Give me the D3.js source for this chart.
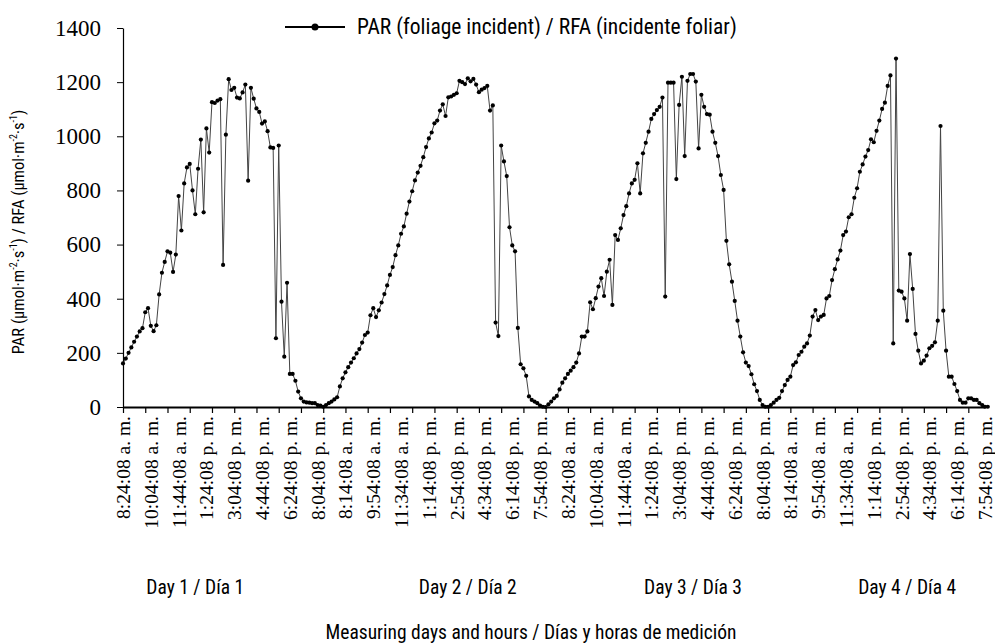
<!DOCTYPE html>
<html>
<head>
<meta charset="utf-8">
<script src="https://cdn.jsdelivr.net/npm/d3@7"></script>
<style>
  body { margin: 0; background: #fff; }
  .sans { font-family: "Liberation Sans Narrow", "Roboto Condensed", "Liberation Sans", Arial, sans-serif; font-weight: 400; }
  .serif { font-family: "Liberation Serif", "Times New Roman", serif; }
</style>
</head>
<body>
<div id="chart"></div>
<script>
// PAR readings, one every 10 minutes, four measuring days in a row
var par = [
  // day 1
  161,179,200,220,241,260,279,291,350,365,300,280,302,416,496,536,575,570,499,563,
  779,652,826,885,898,800,712,880,988,719,1029,940,1126,1123,1132,1137,525,1006,1211,1171,
  1179,1143,1140,1162,1191,836,1179,1139,1103,1090,1047,1055,1019,959,957,254,966,389,186,459,122,
  // night 1 / day 2
  122,97,57,32,20,17,16,14,14,7,5,1,7,14,20,28,36,76,106,128,
  147,164,180,198,214,238,266,275,339,365,332,357,386,417,449,488,517,561,597,640,
  667,714,759,797,837,866,891,923,960,992,1014,1048,1058,1095,1118,1075,1144,1147,1153,1159,
  1205,1200,1193,1214,1203,1212,1191,1163,1172,1178,1186,1095,1114,312,262,966,907,853,664,597,
  575,292,158,143,115,39,26,20,14,5,1,0,10,20,32,41,65,90,106,122,
  134,147,164,198,260,260,279,387,361,402,445,476,410,500,544,377,635,617,
  // day 3
  660,709,742,789,826,839,900,789,937,976,1017,1064,1082,1097,1109,1143,408,1198,1198,1198,
  842,1116,1220,927,1205,1230,1230,1202,955,1153,1109,1082,1080,1017,976,927,857,802,614,527,
  463,392,319,260,202,164,151,121,84,59,26,7,1,1,7,16,26,34,59,81,100,112,155,
  // day 4
  165,192,204,223,235,264,334,358,321,334,340,401,410,469,509,545,578,635,648,701,
  712,773,808,869,896,925,949,989,978,1020,1058,1101,1124,1186,1225,235,1287,430,426,401,
  319,565,436,270,208,161,171,190,217,226,239,319,1038,356,208,112,112,85,59,26,
  16,16,32,32,26,26,14,7,1,1
];

var timeLabels = [
  "8:24:08 a. m.","10:04:08 a. m.","11:44:08 a. m.","1:24:08 p. m.","3:04:08 p. m.","4:44:08 p. m.","6:24:08 p. m.","8:04:08 p. m.",
  "8:14:08 a. m.","9:54:08 a. m.","11:34:08 a. m.","1:14:08 p. m.","2:54:08 p. m.","4:34:08 p. m.","6:14:08 p. m.","7:54:08 p. m.",
  "8:24:08 a. m.","10:04:08 a. m.","11:44:08 a. m.","1:24:08 p. m.","3:04:08 p. m.","4:44:08 p. m.","6:24:08 p. m.","8:04:08 p. m.",
  "8:14:08 a. m.","9:54:08 a. m.","11:34:08 a. m.","1:14:08 p. m.","2:54:08 p. m.","4:34:08 p. m.","6:14:08 p. m.","7:54:08 p. m."
];
var labelStep = 10;
var tickStep = 8;

var dayNames = ["Day 1 / Día 1", "Day 2 / Día 2", "Day 3 / Día 3", "Day 4 / Día 4"];
var dayCenters = [26, 124, 205, 282]; // index under which each day caption sits

var yTicks = [0, 200, 400, 600, 800, 1000, 1200, 1400];

var width = 995, height = 643;

var svg = d3.select("#chart").append("svg")
  .attr("width", width).attr("height", height);

var x = d3.scaleLinear().domain([0, 310]).range([123, 985]);
var y = d3.scaleLinear().domain([0, 1400]).range([407, 28]);

// y axis
var yAxis = svg.append("g")
  .attr("transform", "translate(123,0)")
  .call(d3.axisLeft(y).tickValues(yTicks).tickFormat(d3.format("d"))
    .tickSize(6).tickSizeOuter(0).tickPadding(16));
yAxis.select(".domain").attr("stroke", "#000").attr("stroke-width", 1.2);
yAxis.selectAll("text").attr("class", "serif").style("font-size", "23px").attr("fill", "#000");

// x axis: ticks every 8 readings, labels every 10
var tickIdx = d3.range(0, par.length, tickStep);
var xAxis = svg.append("g")
  .attr("transform", "translate(0,407)")
  .call(d3.axisBottom(x).tickValues(tickIdx).tickSize(6).tickSizeOuter(0).tickFormat(""));
xAxis.select(".domain").attr("stroke", "#000").attr("stroke-width", 2);
xAxis.selectAll(".tick line").attr("stroke", "#000").attr("stroke-width", 1.2);

svg.append("g").selectAll("text")
  .data(timeLabels)
  .enter().append("text")
  .attr("class", "serif")
  .attr("transform", function(d, i) { return "translate(" + (x(i * labelStep) + 7) + ",416) rotate(-90)"; })
  .attr("text-anchor", "end")
  .style("font-size", "19.5px")
  .text(function(d) { return d; });

// the series
svg.append("path")
  .datum(par)
  .attr("fill", "none")
  .attr("stroke", "#444")
  .attr("stroke-width", 1)
  .attr("d", d3.line().x(function(d, i) { return x(i); }).y(function(d) { return y(d); }));

svg.append("g").selectAll("circle")
  .data(par)
  .enter().append("circle")
  .attr("cx", function(d, i) { return x(i); })
  .attr("cy", function(d) { return y(d); })
  .attr("r", 2.1)
  .attr("fill", "#000");

// legend
var legend = svg.append("g").attr("transform", "translate(285,27)");
legend.append("line").attr("x1", 0).attr("x2", 60).attr("stroke", "#000").attr("stroke-width", 2);
legend.append("circle").attr("cx", 30).attr("r", 3.5).attr("fill", "#000");
legend.append("text").attr("class", "sans").attr("x", 72).attr("y", 7)
  .style("font-size", "21.5px").text("PAR (foliage incident) / RFA (incidente foliar)");

// day captions
svg.append("g").selectAll("text")
  .data(dayNames)
  .enter().append("text")
  .attr("class", "sans")
  .attr("x", function(d, i) { return x(dayCenters[i]); })
  .attr("y", 594)
  .attr("text-anchor", "middle")
  .style("font-size", "19.5px")
  .text(function(d) { return d; });

// axis titles
svg.append("text")
  .attr("class", "sans")
  .attr("x", 531).attr("y", 639)
  .attr("text-anchor", "middle")
  .style("font-size", "19.5px")
  .text("Measuring days and hours / Días y horas de medición");

var yt = svg.append("text")
  .attr("class", "sans")
  .attr("transform", "translate(24,232) rotate(-90)")
  .attr("text-anchor", "middle")
  .style("font-size", "16.5px");
yt.append("tspan").text("PAR (µmol·m");
yt.append("tspan").attr("dy", -7).style("font-size", "10px").text("-2");
yt.append("tspan").attr("dy", 7).text("·s");
yt.append("tspan").attr("dy", -7).style("font-size", "10px").text("-1");
yt.append("tspan").attr("dy", 7).text(") / RFA (µmol·m");
yt.append("tspan").attr("dy", -7).style("font-size", "10px").text("-2");
yt.append("tspan").attr("dy", 7).text("·s");
yt.append("tspan").attr("dy", -7).style("font-size", "10px").text("-1");
yt.append("tspan").attr("dy", 7).text(")");
</script>
</body>
</html>
